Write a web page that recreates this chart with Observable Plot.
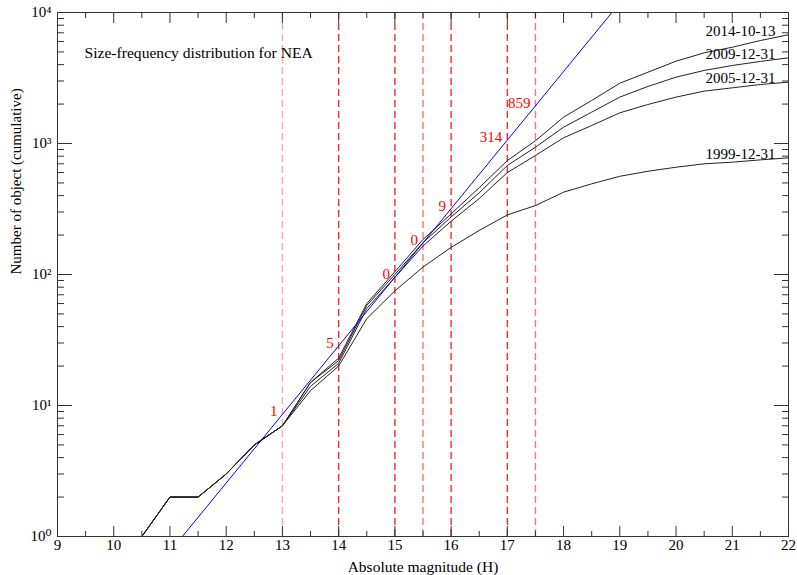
<!DOCTYPE html>
<html><head><meta charset="utf-8">
<script src="https://cdn.jsdelivr.net/npm/d3@7"></script>
<script src="https://cdn.jsdelivr.net/npm/@observablehq/plot@0.6"></script>
<style>body{margin:0;background:#fff}</style>
</head><body><div id="chart"></div>
<script>
// Absolute magnitude grid
const H = [9,9.5,10,10.5,11,11.5,12,12.5,13,13.5,14,14.5,15,15.5,16,16.5,17,17.5,18,18.5,19,19.5,20,20.5,21,21.5,22];
// Cumulative counts per epoch
const n1999 = [1,1,1,1,2,2,3,5,7,13,20,46,75,114,161,217,285,336,425,492,562,614,659,700,720,750,777];
const n2005 = [1,1,1,1,2,2,3,5,7,14,21,55,95,165,255,380,600,810,1105,1372,1715,1985,2260,2510,2660,2820,2940];
const n2009 = [1,1,1,1,2,2,3,5,7,15,22,58,100,175,275,420,680,937,1333,1735,2260,2725,3210,3610,3940,4230,4510];
const n2014 = [1,1,1,1,2,2,3,5,7,15,23,60,105,185,290,460,741,1050,1588,2130,2885,3500,4250,4920,5430,6110,6760];
const seriesNames = ["1999-12-31","2005-12-31","2009-12-31","2014-10-13"];
const seriesValues = [n1999, n2005, n2009, n2014];
// Power-law fit line (blue)
const fitH = [11.22, 18.86];
const fitN = [1, 10000];
// Vertical markers and their labels
const markerH = [13, 14, 15, 15.5, 16, 17, 17.5];
const markerLabels = ["1","5","0","0","9","314","859"];
const markerFitN = [8.55, 28.6, 95.3, 174, 318, 1063, 1942];
// Axis ticks
const xMajor = [9,10,11,12,13,14,15,16,17,18,19,20,21,22];
const yMajor = [1,10,100,1000,10000];

const rows = [];
seriesNames.forEach((s, i) => H.forEach((h, j) => rows.push({series: s, H: h, N: seriesValues[i][j]})));
const fit = fitH.map((h, i) => ({H: h, N: fitN[i]}));
const markers = markerH.map((h, i) => ({H: h, label: markerLabels[i], N: markerFitN[i]}));
const ends = seriesNames.map((s, i) => ({series: s, H: H[H.length - 1], N: seriesValues[i][H.length - 1]}));

const xMinor = d3.range(9.5, 22, 1);
const yMinor = [];
[1,10,100,1000].forEach(d => { for (let k = 2; k <= 9; k++) yMinor.push(d * k); });
const sup = {0:"\u2070",1:"\u00B9",2:"\u00B2",3:"\u00B3",4:"\u2074"};

const frameColor = "#333";
const dash = "7,4";

const chart = Plot.plot({
  width: 797,
  height: 575,
  marginTop: 12,
  marginRight: 9,
  marginBottom: 39,
  marginLeft: 57,
  style: {fontFamily: "'Liberation Serif', 'DejaVu Serif', serif", fontSize: "14px", background: "white", color: "black"},
  x: {domain: [9, 22]},
  y: {type: "log", domain: [1, 10000]},
  marks: [
    // vertical dashed markers
    Plot.ruleX(markers, {filter: d => d.H === 13, x: "H", stroke: "#ff0000", strokeOpacity: 0.35, strokeWidth: 1.4, strokeDasharray: dash}),
    Plot.ruleX(markers, {filter: d => d.H === 15.5 || d.H === 17.5, x: "H", stroke: "#ff0000", strokeOpacity: 0.55, strokeWidth: 1.4, strokeDasharray: dash}),
    Plot.ruleX(markers, {filter: d => [14, 15, 16, 17].includes(d.H), x: "H", stroke: "#ff0000", strokeOpacity: 0.85, strokeWidth: 1.4, strokeDasharray: dash}),
    // observed curves
    Plot.line(rows, {x: "H", y: "N", z: "series", stroke: "#222", strokeWidth: 1, clip: true}),
    // fit line
    Plot.line(fit, {x: "H", y: "N", stroke: "blue", strokeWidth: 1, clip: true}),
    // marker labels
    Plot.text(markers, {x: "H", y: "N", text: "label", fill: "red", fontSize: 15, textAnchor: "end", lineAnchor: "bottom", dx: -5, dy: 2}),
    // series labels
    Plot.text(ends, {x: "H", y: "N", text: "series", fill: "black", fontSize: 15, textAnchor: "end", lineAnchor: "bottom", dx: -13, dy: 1}),
    // title inside plot
    Plot.text(["Size-frequency distribution for NEA"], {frameAnchor: "top-left", dx: 27, dy: 40, text: d => d, textAnchor: "start", lineAnchor: "middle", fontSize: 15.6}),
    // frame
    Plot.frame({stroke: frameColor}),
    // inward ticks, bottom & top
    Plot.axisX({anchor: "bottom", ticks: xMajor, tickSize: -10, tickFormat: () => "", label: null, stroke: frameColor}),
    Plot.axisX({anchor: "bottom", ticks: xMinor, tickSize: -5, tickFormat: () => "", label: null, stroke: frameColor}),
    Plot.axisX({anchor: "top", ticks: xMajor, tickSize: -10, tickFormat: () => "", label: null, stroke: frameColor}),
    Plot.axisX({anchor: "top", ticks: xMinor, tickSize: -5, tickFormat: () => "", label: null, stroke: frameColor}),
    Plot.axisX({anchor: "bottom", ticks: xMajor, tickSize: 0, tickPadding: 3, tickFormat: d => String(d), label: null, fontSize: 15}),
    // inward ticks, left & right
    Plot.axisY({anchor: "left", ticks: yMajor, tickSize: -15, tickFormat: () => "", label: null, stroke: frameColor}),
    Plot.axisY({anchor: "left", ticks: yMinor, tickSize: -7, tickFormat: () => "", label: null, stroke: frameColor}),
    Plot.axisY({anchor: "right", ticks: yMajor, tickSize: -15, tickFormat: () => "", label: null, stroke: frameColor}),
    Plot.axisY({anchor: "right", ticks: yMinor, tickSize: -7, tickFormat: () => "", label: null, stroke: frameColor}),
    Plot.axisY({anchor: "left", ticks: yMajor, tickSize: 0, tickPadding: 6, tickFormat: d => "10" + sup[Math.round(Math.log10(d))], label: null, fontSize: 15}),
    // axis titles
    Plot.text(["Absolute magnitude (H)"], {frameAnchor: "bottom", dy: 31, text: d => d, lineAnchor: "middle", fontSize: 15.5}),
    Plot.text(["Number of object (cumulative)"], {frameAnchor: "left", dx: -41, rotate: -90, text: d => d, lineAnchor: "middle", fontSize: 15})
  ]
});
document.getElementById("chart").appendChild(chart);
</script>
</body></html>
